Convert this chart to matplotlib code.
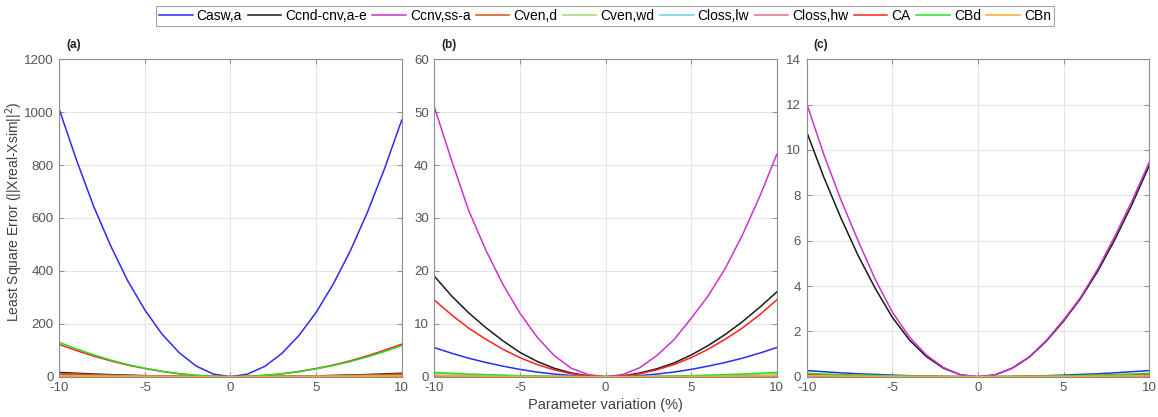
import matplotlib
matplotlib.use("Agg")
import matplotlib.pyplot as plt
import numpy as np

plt.rcParams['font.family'] = ['Liberation Sans', 'DejaVu Sans']
plt.rcParams['axes.unicode_minus'] = False

x = list(range(-10, 11))

labels = ["Casw,a", "Ccnd-cnv,a-e", "Ccnv,ss-a", "Cven,d", "Cven,wd",
          "Closs,lw", "Closs,hw", "CA", "CBd", "CBn"]
colors = ["#2b2bf5", "#1a1a1a", "#cc33cc", "#d9541a", "#a3d977",
          "#6ccdf0", "#e0707f", "#ff2020", "#22e022", "#f2b02a"]

# Panel (a)
a_casw = [1010, 820, 645, 495, 362, 252, 161, 91, 40, 10, 0, 10, 39, 88, 156, 243, 350, 476, 622, 787, 970]
a_ccnd = [16, 13, 10.2, 7.8, 5.8, 4, 2.6, 1.4, 0.6, 0.15, 0, 0.13, 0.5, 1.2, 2.1, 3.3, 4.7, 6.4, 8.3, 10.5, 13]
a_ccnv = [10, 8.1, 6.4, 4.9, 3.6, 2.5, 1.6, 0.9, 0.4, 0.1, 0, 0.1, 0.35, 0.8, 1.4, 2.2, 3.2, 4.3, 5.6, 7.1, 8.7]
a_cvend = [12, 9.7, 7.7, 5.9, 4.3, 3, 1.9, 1.1, 0.5, 0.12, 0, 0.11, 0.45, 1, 1.7, 2.6, 3.7, 5, 6.5, 8.2, 10]
a_cvenwd = [3, 2.4, 1.9, 1.5, 1.1, 0.75, 0.48, 0.27, 0.12, 0.03, 0, 0.03, 0.12, 0.27, 0.48, 0.75, 1.1, 1.5, 1.9, 2.4, 3]
a_closslw = [1, 0.8, 0.64, 0.5, 0.36, 0.25, 0.16, 0.09, 0.04, 0.01, 0, 0.01, 0.04, 0.09, 0.16, 0.25, 0.36, 0.5, 0.64, 0.8, 1]
a_closshw = [2, 1.6, 1.3, 1, 0.72, 0.5, 0.32, 0.18, 0.08, 0.02, 0, 0.02, 0.08, 0.18, 0.32, 0.5, 0.72, 1, 1.3, 1.6, 2]
a_ca = [122, 99, 78, 60, 44, 31, 20, 11, 5, 1.2, 0, 1.2, 5, 11, 20, 31, 44, 60, 79, 100, 123]
a_cbd = [130, 105, 83, 63, 46, 32, 20.5, 11.5, 5.1, 1.3, 0, 1.2, 4.8, 10.6, 18.8, 29.5, 42, 57, 75, 95, 117]
a_cbn = [3, 2.4, 1.9, 1.5, 1.1, 0.75, 0.48, 0.27, 0.12, 0.03, 0, 0.03, 0.12, 0.27, 0.48, 0.75, 1.1, 1.5, 1.9, 2.4, 3]

# Panel (b)
b_casw = [5.5, 4.45, 3.5, 2.7, 2.0, 1.38, 0.88, 0.5, 0.22, 0.055, 0, 0.055, 0.22, 0.5, 0.88, 1.38, 2.0, 2.7, 3.5, 4.45, 5.5]
b_ccnd = [19, 15.3, 12.1, 9.3, 6.8, 4.6, 2.9, 1.6, 0.7, 0.15, 0, 0.15, 0.7, 1.5, 2.6, 4.1, 5.9, 8, 10.4, 13.1, 16]
b_ccnv = [51, 41, 31.5, 24, 17.5, 12, 7.5, 4, 1.6, 0.4, 0, 0.4, 1.7, 4, 7, 11, 15.3, 20.5, 26.8, 34, 42]
b_cvend = [0.25, 0.2, 0.16, 0.12, 0.09, 0.06, 0.04, 0.02, 0.01, 0.003, 0, 0.003, 0.01, 0.02, 0.04, 0.06, 0.09, 0.12, 0.16, 0.2, 0.25]
b_cvenwd = [0.6, 0.49, 0.38, 0.29, 0.22, 0.15, 0.1, 0.05, 0.02, 0.006, 0, 0.006, 0.02, 0.05, 0.1, 0.15, 0.22, 0.29, 0.38, 0.49, 0.6]
b_closslw = [0.05, 0.04, 0.03, 0.025, 0.018, 0.012, 0.008, 0.005, 0.002, 0.001, 0, 0.001, 0.002, 0.005, 0.008, 0.012, 0.018, 0.025, 0.03, 0.04, 0.05]
b_closshw = [0.1, 0.08, 0.064, 0.05, 0.036, 0.025, 0.016, 0.009, 0.004, 0.001, 0, 0.001, 0.004, 0.009, 0.016, 0.025, 0.036, 0.05, 0.064, 0.08, 0.1]
b_ca = [14.5, 11.7, 9.2, 7.1, 5.2, 3.6, 2.3, 1.3, 0.55, 0.13, 0, 0.13, 0.55, 1.3, 2.3, 3.6, 5.2, 7.1, 9.2, 11.7, 14.5]
b_cbd = [0.8, 0.65, 0.51, 0.39, 0.29, 0.2, 0.13, 0.07, 0.03, 0.008, 0, 0.008, 0.03, 0.07, 0.13, 0.2, 0.29, 0.39, 0.51, 0.65, 0.8]
b_cbn = [0.2, 0.16, 0.13, 0.1, 0.07, 0.05, 0.03, 0.018, 0.008, 0.002, 0, 0.002, 0.008, 0.018, 0.03, 0.05, 0.07, 0.1, 0.13, 0.16, 0.2]

# Panel (c)
c_casw = [0.27, 0.22, 0.17, 0.13, 0.1, 0.07, 0.045, 0.025, 0.011, 0.003, 0, 0.003, 0.011, 0.025, 0.045, 0.07, 0.1, 0.13, 0.17, 0.22, 0.27]
c_ccnd = [10.8, 8.8, 7.0, 5.35, 3.9, 2.62, 1.62, 0.88, 0.37, 0.08, 0, 0.08, 0.37, 0.86, 1.57, 2.45, 3.45, 4.65, 6.05, 7.6, 9.3]
c_ccnv = [12.05, 9.8, 7.8, 6.0, 4.3, 2.85, 1.75, 0.95, 0.4, 0.08, 0, 0.08, 0.38, 0.88, 1.6, 2.5, 3.5, 4.75, 6.2, 7.75, 9.45]
c_cvend = [0.08, 0.065, 0.05, 0.04, 0.03, 0.02, 0.013, 0.007, 0.003, 0.001, 0, 0.001, 0.003, 0.007, 0.013, 0.02, 0.03, 0.04, 0.05, 0.065, 0.08]
c_cvenwd = [0.05, 0.04, 0.032, 0.025, 0.018, 0.012, 0.008, 0.005, 0.002, 0.001, 0, 0.001, 0.002, 0.005, 0.008, 0.012, 0.018, 0.025, 0.032, 0.04, 0.05]
c_closslw = [0.02, 0.016, 0.013, 0.01, 0.007, 0.005, 0.003, 0.002, 0.001, 0.0, 0, 0.0, 0.001, 0.002, 0.003, 0.005, 0.007, 0.01, 0.013, 0.016, 0.02]
c_closshw = [0.03, 0.024, 0.019, 0.015, 0.011, 0.0075, 0.005, 0.003, 0.001, 0.0, 0, 0.0, 0.001, 0.003, 0.005, 0.0075, 0.011, 0.015, 0.019, 0.024, 0.03]
c_ca = [0.1, 0.08, 0.064, 0.05, 0.036, 0.025, 0.016, 0.009, 0.004, 0.001, 0, 0.001, 0.004, 0.009, 0.016, 0.025, 0.036, 0.05, 0.064, 0.08, 0.1]
c_cbd = [0.15, 0.12, 0.096, 0.074, 0.054, 0.037, 0.024, 0.013, 0.006, 0.0015, 0, 0.0015, 0.006, 0.013, 0.024, 0.037, 0.054, 0.074, 0.096, 0.12, 0.15]
c_cbn = [0.05, 0.04, 0.032, 0.025, 0.018, 0.012, 0.008, 0.005, 0.002, 0.001, 0, 0.001, 0.002, 0.005, 0.008, 0.012, 0.018, 0.025, 0.032, 0.04, 0.05]

panels = [
    ("(a)", [a_casw, a_ccnd, a_ccnv, a_cvend, a_cvenwd, a_closslw, a_closshw, a_ca, a_cbd, a_cbn], 1200, 200),
    ("(b)", [b_casw, b_ccnd, b_ccnv, b_cvend, b_cvenwd, b_closslw, b_closshw, b_ca, b_cbd, b_cbn], 60, 10),
    ("(c)", [c_casw, c_ccnd, c_ccnv, c_cvend, c_cvenwd, c_closslw, c_closshw, c_ca, c_cbd, c_cbn], 14, 2),
]

W, H = 1158, 417
fig = plt.figure(figsize=(W / 100, H / 100), dpi=100)

lefts = [59.3, 434.3, 806.7]
ax_w = 342.4
ax_top = 59.3
ax_bot = 376.7

tick_col = "#555555"
handles = None
for i, (tag, series, ymax, ystep) in enumerate(panels):
    ax = fig.add_axes([lefts[i] / W, 1 - ax_bot / H, ax_w / W, (ax_bot - ax_top) / H])
    hs = []
    for s, lab, col in zip(series, labels, colors):
        h, = ax.plot(x, s, color=col, lw=1.1, label=lab)
        hs.append(h)
    if handles is None:
        handles = hs
    ax.set_xlim(-10, 10)
    ax.set_ylim(0, ymax)
    ax.set_xticks([-10, -5, 0, 5, 10])
    ax.set_yticks(np.arange(0, ymax + ystep / 2, ystep))
    ax.grid(True, color="#e4e4e4", lw=0.8)
    ax.set_axisbelow(True)
    ax.tick_params(direction="in", length=3.5, width=0.6, colors="#808080",
                   labelcolor=tick_col, labelsize=9.5, top=True, right=True, pad=4)
    for sp in ax.spines.values():
        sp.set_color("#8c8c8c")
        sp.set_linewidth(0.8)
    ax.text(0.02, 1.025, tag, transform=ax.transAxes, fontsize=8.5,
            fontweight="bold", color="#222222", ha="left", va="bottom")
    if i == 0:
        ax.set_ylabel("Least Square Error (||Xreal-Xsim||$^2$)", fontsize=10,
                      color="#404040")
        ax.yaxis.set_label_coords((25 - lefts[0]) / ax_w, (ax_bot - 212) / (ax_bot - ax_top))
    if i == 1:
        ax.set_xlabel("Parameter variation (%)", fontsize=10.5, color="#404040", labelpad=3)

leg = fig.legend(handles, labels, loc="center", bbox_to_anchor=(605 / W, 1 - 16 / H),
                 ncol=10, fontsize=10, frameon=True, fancybox=False,
                 handlelength=2.4, handletextpad=0.3, columnspacing=0.4,
                 borderpad=0.25, borderaxespad=0)
leg.get_frame().set_edgecolor("#8c8c8c")
leg.get_frame().set_linewidth(0.8)

fig.savefig("out.png", dpi=100)
